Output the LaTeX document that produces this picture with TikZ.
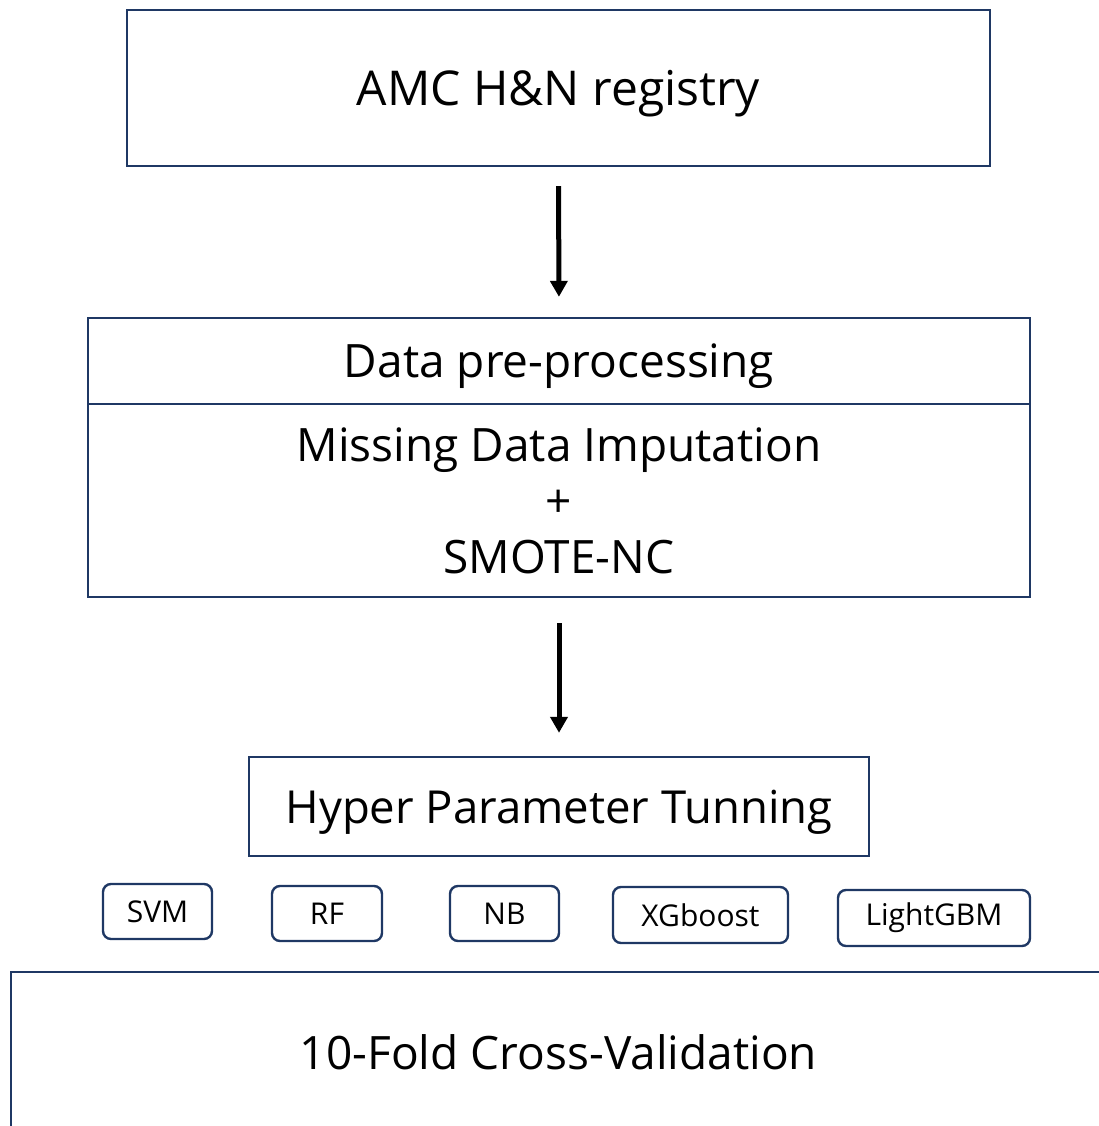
\documentclass[tikz,border=0pt]{standalone}
\usepackage{fontspec}
\setmainfont{Open Sans}
\usetikzlibrary{arrows.meta}
\definecolor{navy}{HTML}{1F3864}
\begin{document}
\begin{tikzpicture}[x=1pt,y=-1pt,
  bigbox/.style={draw=navy,line width=2.4pt,inner sep=0pt,text depth=0pt,font=\fontsize{46}{56}\selectfont},
  modelbox/.style={draw=navy,line width=2.4pt,rounded corners=8pt,inner sep=0pt,font=\fontsize{30}{36}\selectfont},
  flowarrow/.style={line width=5pt,-{Triangle[width=17pt,length=16pt]}}
]
\useasboundingbox (0,0) rectangle (1099,1126);
\node[bigbox,minimum width=863pt,minimum height=156pt,font=\fontsize{48}{56}\selectfont] (reg) at (558.5,88) {AMC H\&N registry};
\node[bigbox,minimum width=942pt,minimum height=86pt] (pre) at (559,361) {Data pre-processing};
\node[bigbox,minimum width=942pt,minimum height=193pt,align=center] (imp) at (559,500.5)
  {Missing Data Imputation\\+\\SMOTE-NC};
\node[bigbox,minimum width=620pt,minimum height=99pt,font=\fontsize{45.5}{56}\selectfont] (hyp) at (559,806.5) {Hyper Parameter Tunning};
\node[modelbox,minimum width=109pt,minimum height=55pt] (svm) at (157.5,911.5) {SVM};
\node[modelbox,minimum width=110pt,minimum height=55pt] (rf) at (327,913.5) {RF};
\node[modelbox,minimum width=109pt,minimum height=55pt] (nb) at (504.5,913.5) {NB};
\node[modelbox,minimum width=175pt,minimum height=56pt] (xgb) at (700.5,915) {XGboost};
\node[modelbox,minimum width=192pt,minimum height=56pt] (lgbm) at (934,918) {LightGBM};
\draw[draw=navy,line width=2.4pt] (11,1130) -- (11,972) -- (1103,972);
\node[font=\fontsize{46}{56}\selectfont] (cv) at (558.5,1052) {10-Fold Cross-Validation};
\draw[flowarrow,shorten <=19pt,shorten >=20pt] (reg.south) -- (pre.north);
\draw[flowarrow,shorten <=25pt,shorten >=23pt] (imp.south) -- (hyp.north);
\end{tikzpicture}
\end{document}
